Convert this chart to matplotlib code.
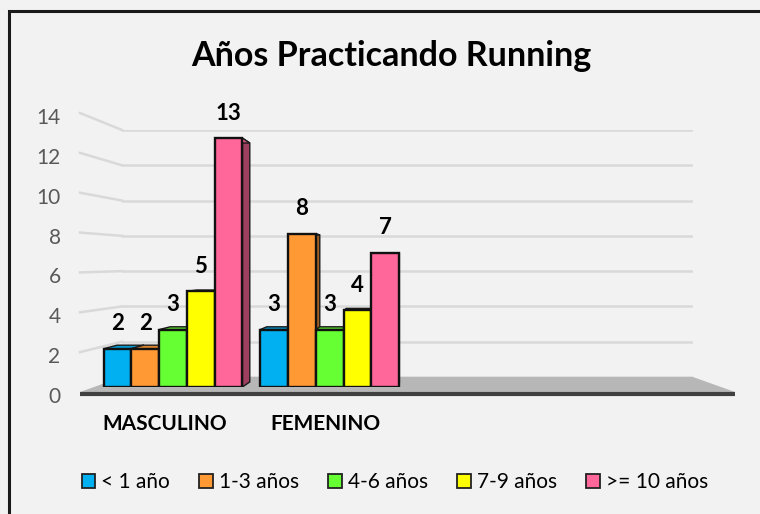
import matplotlib
matplotlib.use('Agg')
import matplotlib.pyplot as plt
from matplotlib.patches import Polygon, Patch
from matplotlib.lines import Line2D
import numpy as np

# ---------------- data ----------------
title = 'Años Practicando Running'
categories = ['MASCULINO', 'FEMENINO']
series_names = ['< 1 año', '1-3 años', '4-6 años', '7-9 años', '>= 10 años']
lt1 = [2, 3]
y1_3 = [2, 8]
y4_6 = [3, 3]
y7_9 = [5, 4]
ge10 = [13, 7]
series_values = [lt1, y1_3, y4_6, y7_9, ge10]
y_ticks = [0, 2, 4, 6, 8, 10, 12, 14]

# ---------------- style ----------------
colors = ['#00B0F0', '#FF9933', '#66FF33', '#FFFF00', '#FF6699']
BG = '#F2F2F2'
FONT = 'Lato'
plt.rcParams['font.family'] = [FONT, 'DejaVu Sans']

W, H = 760, 514
fig = plt.figure(figsize=(W / 100, H / 100), dpi=100, facecolor=BG)


def fr(x0, y0, x1, y1):
    """pixel box (top-left origin) -> figure fraction rect"""
    return [x0 / W, 1 - y1 / H, (x1 - x0) / W, (y1 - y0) / H]


def shade(c, f):
    r, g, b = matplotlib.colors.to_rgb(c)
    return (r * f, g * f, b * f)


# background / decoration axes in pixel coordinates
ax_bg = fig.add_axes([0, 0, 1, 1], zorder=2)
ax_bg.set_xlim(0, W)
ax_bg.set_ylim(H, 0)
ax_bg.axis('off')
ax_bg.patch.set_alpha(0)

# chart border (left & top visible)
ax_bg.plot([8.5, 8.5, W], [H, 10.5, 10.5], color='#1a1a1a', lw=2.2,
           solid_joinstyle='miter', zorder=10)

# back wall gridlines
ax_wall = fig.add_axes(fr(122, 130, 693, 377), zorder=1)
ax_wall.set_ylim(0, 14)
ax_wall.set_xlim(0, 1)
ax_wall.set_yticks(y_ticks)
ax_wall.set_xticks([])
ax_wall.tick_params(left=False, labelleft=False)
ax_wall.grid(axis='y', color='#D9D9D9', lw=1.8)
for s in ax_wall.spines.values():
    s.set_visible(False)
ax_wall.patch.set_alpha(0)

# tick label axes (front-left edge)
ax_lbl = fig.add_axes(fr(80, 116, 122, 395), zorder=1)
ax_lbl.set_ylim(0, 14)
ax_lbl.set_xlim(0, 1)
ax_lbl.set_yticks(y_ticks)
ax_lbl.set_yticklabels([str(t) for t in y_ticks])
ax_lbl.set_xticks([])
ax_lbl.tick_params(axis='y', length=0, pad=14, labelsize=15, labelcolor='#595959')
for s in ax_lbl.spines.values():
    s.set_visible(False)
ax_lbl.patch.set_alpha(0)

# side wall gridlines joining the label edge to the back wall
for t in y_ticks[1:]:
    p1 = ax_lbl.transData.transform((0, t)) + np.array([0, 3])
    p2 = ax_wall.transData.transform((0, t))
    ax_wall.add_line(Line2D([p1[0], p2[0]], [p1[1], p2[1]], transform=None,
                            color='#D9D9D9', lw=1.8, clip_on=False))

# floor
floor = Polygon([(80, 392), (122, 377), (693, 377), (735, 392)], closed=True,
                facecolor='#B7B7B7', edgecolor='none', zorder=1)
ax_bg.add_patch(floor)
ax_bg.plot([80, 735], [393.5, 393.5], color='#404040', lw=3, zorder=2,
           solid_capstyle='butt')

# ---------------- bars ----------------
ax = fig.add_axes(fr(79, 119, 737, 387), zorder=3)
ax.set_xlim(-0.6, 3.6)
ax.set_ylim(0, 14)
ax.axis('off')
ax.patch.set_alpha(0)

bw = 0.1774
n = len(series_names)
KX, VX = 0.045, 405.0      # horizontal perspective (pixels)
KY, VY = 0.04, H - 260.0   # vertical perspective (display pixels)
tinv = ax.transData.inverted()


def ddx(xd):
    return max(KX * (VX - xd), 0.0)


def ddy(yd):
    return KY * (VY - yd)


z = 5
x_cat = np.arange(len(categories))
for c in range(len(categories)):
    for i in range(n):
        v = series_values[i][c]
        xc = x_cat[c] + (i - (n - 1) / 2) * bw
        x0, x1 = xc - bw / 2, xc + bw / 2
        (X0, T), (X1, B) = ax.transData.transform([(x0, v), (x1, 0)])
        side = [(X1, T), (X1 + ddx(X1), T + ddy(T)),
                (X1 + ddx(X1), B + ddy(B)), (X1, B)]
        top = [(X0, T), (X1, T), (X1 + ddx(X1), T + ddy(T)),
               (X0 + ddx(X0), T + ddy(T))]
        ax.add_patch(Polygon(tinv.transform(side), closed=True,
                             facecolor=shade(colors[i], 0.62), edgecolor='#1a1a1a',
                             lw=1.0, zorder=z, joinstyle='miter'))
        ax.add_patch(Polygon(tinv.transform(top), closed=True,
                             facecolor=shade(colors[i], 0.85), edgecolor='#1a1a1a',
                             lw=1.0, zorder=z + 1, joinstyle='miter'))
        ax.bar(xc, v, width=bw, color=colors[i], edgecolor='#111111', lw=1.7,
               zorder=z + 2)
        ax.annotate(str(v), (xc, v), xytext=(0, 18), textcoords='offset points',
                    ha='center', va='center', fontsize=16, fontweight='bold',
                    color='black', zorder=50)
        z += 3

cat_shift = [-0.055, -0.03]
for c, name in enumerate(categories):
    ax.text(x_cat[c] + cat_shift[c], -1.93, name, ha='center', va='center',
            fontsize=15, fontweight='bold', color='black', clip_on=False)

# ---------------- title ----------------
fig.text(391 / W, 1 - 56 / H, title, ha='center', va='center',
         fontsize=24.5, fontweight='bold', color='black')

# ---------------- legend ----------------
handles = [Patch(facecolor=colors[i], edgecolor='#222222', lw=1.3)
           for i in range(n)]
fig.legend(handles, series_names, loc='center', bbox_to_anchor=(395 / W, 1 - 482 / H),
           ncol=n, frameon=False, fontsize=15, handlelength=0.65,
           handleheight=0.65, handletextpad=0.3, columnspacing=1.4,
           labelcolor='black')

fig.savefig('out.png', dpi=100, facecolor=BG)
